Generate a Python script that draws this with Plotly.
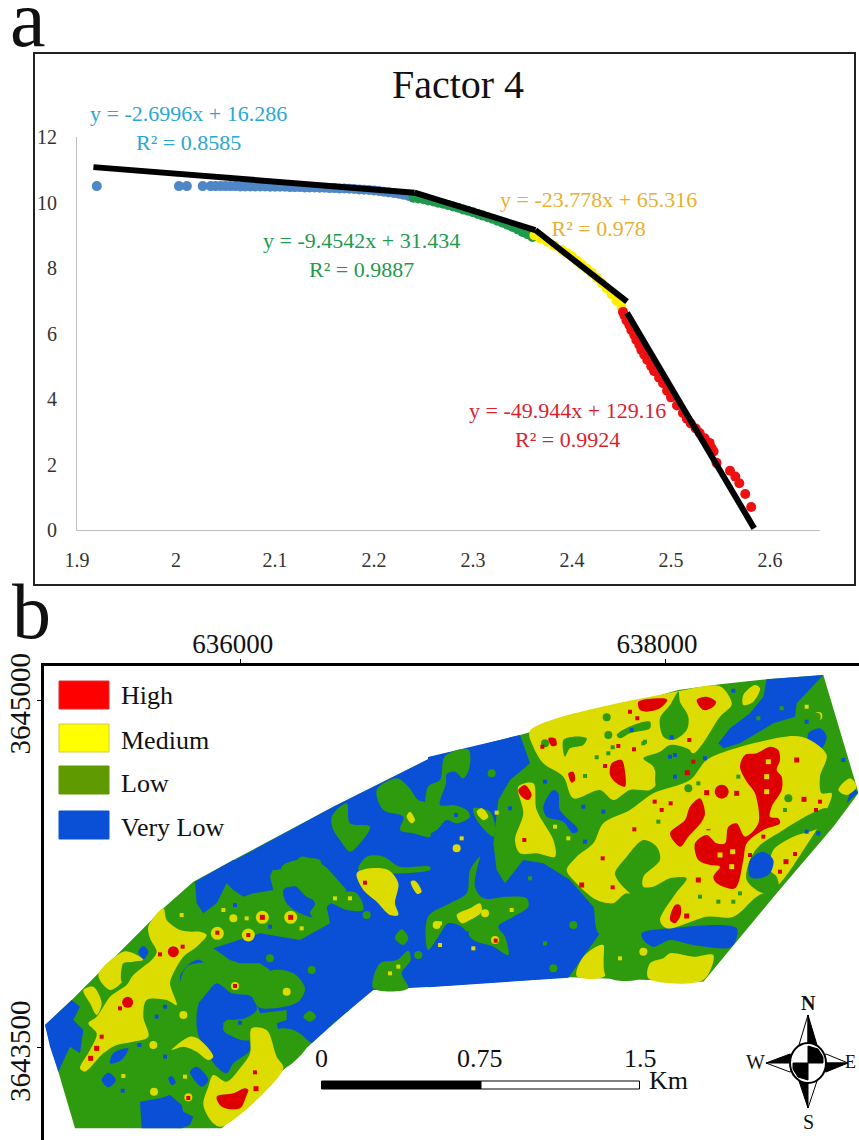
import plotly.graph_objects as go

W, H = 859, 1140
SERIF = "Liberation Serif"

# ---------- panel a: data ----------
X_TICKS = [1.9, 2.0, 2.1, 2.2, 2.3, 2.4, 2.5, 2.6]
X_TICK_TEXT = ["1.9", "2", "2.1", "2.2", "2.3", "2.4", "2.5", "2.6"]
Y_TICKS = [0, 2, 4, 6, 8, 10, 12]

BLUE_X = [1.92, 2.003, 2.011, 2.027, 2.035, 2.04, 2.045, 2.05, 2.055, 2.06, 2.065, 2.07, 2.075, 2.08, 2.085, 2.09, 2.095, 2.10, 2.105, 2.11,
          2.115, 2.12, 2.125, 2.13, 2.135, 2.14, 2.145, 2.15, 2.155, 2.16, 2.165, 2.17, 2.175, 2.18, 2.185, 2.19, 2.195, 2.20, 2.205, 2.21,
          2.215, 2.22, 2.225, 2.23, 2.235, 2.24]
BLUE_Y = [10.5, 10.5, 10.5, 10.5, 10.5, 10.5, 10.5, 10.5, 10.5, 10.5, 10.49, 10.49, 10.49, 10.49, 10.49, 10.49, 10.48, 10.48, 10.48, 10.48,
          10.47, 10.47, 10.47, 10.46, 10.46, 10.46, 10.45, 10.45, 10.44, 10.44, 10.43, 10.43, 10.42, 10.41, 10.4, 10.39, 10.38, 10.37, 10.35, 10.33,
          10.31, 10.29, 10.27, 10.24, 10.2, 10.15]
GREEN_X = [2.24, 2.245, 2.25, 2.255, 2.26, 2.265, 2.27, 2.275, 2.28, 2.285, 2.29, 2.295, 2.30, 2.305, 2.31, 2.315, 2.32, 2.325, 2.33, 2.335, 2.34, 2.345, 2.35, 2.355, 2.36]
GREEN_Y = [10.15, 10.12, 10.1, 10.06, 10.03, 9.99, 9.96, 9.92, 9.88, 9.84, 9.79, 9.75, 9.7, 9.65, 9.6, 9.55, 9.5, 9.44, 9.38, 9.32, 9.25, 9.18, 9.1, 9.03, 8.95]
YELLOW_X = [2.362, 2.368, 2.375, 2.382, 2.39, 2.395, 2.40, 2.405, 2.41, 2.415, 2.42, 2.425, 2.43, 2.435, 2.44, 2.445, 2.45]
YELLOW_Y = [9.0, 8.9, 8.8, 8.68, 8.55, 8.45, 8.35, 8.22, 8.1, 7.98, 7.85, 7.7, 7.55, 7.38, 7.2, 7.0, 6.8]
RED_X = [2.4515, 2.453, 2.455, 2.458, 2.46, 2.463, 2.465, 2.468, 2.47, 2.473, 2.476, 2.48, 2.483, 2.488, 2.492, 2.496, 2.50, 2.506, 2.512, 2.516, 2.52, 2.525, 2.529, 2.534, 2.539, 2.541, 2.543, 2.546,
         2.5596, 2.565, 2.569, 2.575, 2.581]
RED_Y = [6.66, 6.55, 6.4, 6.25, 6.1, 5.95, 5.8, 5.65, 5.5, 5.35, 5.19, 5.0, 4.85, 4.65, 4.48, 4.25, 4.05, 3.8, 3.57, 3.4, 3.25, 3.1, 2.96, 2.8, 2.66, 2.5, 2.4, 2.05,
         1.81, 1.63, 1.43, 1.1, 0.7]
FIT_BLUE = ([1.9166, 2.241], [11.08, 10.3])
FIT_GREEN = ([2.241, 2.363], [10.3, 9.16])
FIT_YELLOW = ([2.363, 2.4556], [9.16, 6.97])
FIT_RED = ([2.4556, 2.584], [6.63, 0.05])

# ---------- panel b: digitised map sheets ----------
# Each sheet is a digitised tile of the map; vertices are in tile units.
SHEETS = {"nw": (0, 590), "sw": (0, 860), "e": (430, 630)}

OUTLINE = [("sw", [(135, 495), (215, 420), (440, 195), (490, 145), (580, 65), (700, 0)]),
           ("nw", [(1000, 650), (1290, 505)]),
           ("e", [(270, 315), (745, 180), (870, 163), (1010, 148), (1180, 135), (1280, 470), (1285, 490), (1210, 590),
                  (1040, 790), (820, 1055), (655, 1050), (420, 1042), (0, 1070)]),
           ("sw", [(1220, 381), (1115, 390), (935, 550), (850, 630), (665, 805), (225, 805), (175, 635)])]

# areas that run along the map outline stay straight-edged
BLUE_EDGE = [
    ("nw", [(650, 840), (1000, 650), (1296, 502), (1296, 840)]),
    ("sw", [(135, 495), (215, 420), (240, 440), (220, 480), (250, 510), (240, 580), (210, 560), (175, 635), (150, 560)]),
    ("sw", [(585, 65), (700, 0), (830, 0), (810, 50), (820, 90), (760, 100), (730, 110), (700, 90), (680, 70), (650, 130), (610, 160), (590, 130)]),
    ("sw", [(960, 0), (1296, 0), (1296, 380), (1120, 390), (1000, 490), (935, 550), (880, 510), (840, 530), (830, 490), (860, 480), (860, 450),
            (780, 460), (755, 390), (790, 350), (810, 330), (780, 310), (720, 310), (690, 300), (640, 265), (780, 220), (900, 240), (990, 190), (980, 140), (1040, 90)]),
    ("sw", [(420, 725), (480, 715), (510, 705), (545, 735), (550, 755), (580, 770), (570, 795), (545, 805), (425, 805)]),
    ("e", [(-6, 381), (270, 315), (300, 400), (270, 425), (240, 450), (205, 510), (190, 640), (200, 720), (225, 760), (280, 690), (340, 700),
           (420, 750), (490, 830), (510, 910), (415, 1043), (-6, 1072)]),
    ("e", [(1010, 148), (1180, 135), (1100, 220), (1095, 260), (1030, 280), (980, 310), (930, 340), (880, 355), (865, 340), (900, 295), (960, 250), (1000, 200)]),
    ("e", [(1265, 470), (1285, 487), (1250, 520), (1258, 495)]),
]
BLUE_BLOBS = [
    ("sw", [(850, 90), (880, 75), (920, 110), (960, 130), (945, 170), (900, 160), (860, 130)]),
    ("sw", [(540, 350), (570, 310), (600, 300), (630, 340), (580, 390), (550, 390)]),
    ("sw", [(600, 420), (650, 370), (700, 400), (755, 410), (770, 450), (720, 480), (680, 480), (670, 510), (700, 530), (740, 530), (750, 570),
            (700, 610), (680, 640), (650, 620), (610, 560), (590, 500)]),
    ("sw", [(330, 610), (340, 580), (385, 565), (365, 600)]),
    ("sw", [(305, 660), (325, 638), (348, 660), (325, 682)]),
    ("sw", [(570, 635), (590, 620), (625, 660), (605, 680)]),
    ("sw", [(505, 655), (515, 648), (527, 668), (515, 675)]),
    ("sw", [(415, 275), (430, 258), (445, 275), (430, 298)]),
    ("e", [(340, 530), (370, 480), (385, 490), (390, 540), (445, 600), (430, 610), (400, 575), (350, 560)]),
    ("e", [(1135, 310), (1170, 295), (1190, 320), (1170, 360), (1140, 350)]),
    ("e", [(635, 910), (720, 895), (920, 895), (905, 950), (790, 945), (720, 930), (670, 950), (640, 930)]),
    ("e", [(575, 855), (625, 830), (637, 862), (590, 875)]),
    ("e", [(520, 850), (540, 842), (550, 860), (530, 868)]),
]

GREEN_ON_BLUE = [
    ("nw", [(995, 680), (1040, 640), (1050, 700), (1110, 710), (1080, 760), (1050, 785), (1020, 750), (1000, 720)]),
    ("nw", [(1130, 600), (1190, 565), (1225, 590), (1255, 630), (1280, 640), (1290, 700), (1290, 740), (1240, 730), (1200, 720), (1210, 680), (1150, 660)]),
    ("nw", [(830, 840), (870, 830), (905, 800), (960, 820), (985, 840)]),
    ("nw", [(1075, 840), (1100, 800), (1150, 800), (1200, 830), (1290, 830), (1290, 840)]),
    ("sw", [(890, 0), (960, 0), (965, 50), (1010, 90), (1070, 100), (1090, 150), (1040, 150), (985, 130), (970, 190), (930, 160), (945, 130), (890, 80), (850, 80), (845, 20)]),
    ("sw", [(1185, 235), (1205, 208), (1225, 235), (1210, 255)]),
    ("sw", [(1120, 385), (1140, 310), (1190, 300), (1225, 272), (1232, 300), (1205, 340), (1225, 385)]),
    ("sw", [(750, 370), (820, 330), (880, 340), (915, 385), (895, 425), (820, 445), (775, 440)]),
    ("sw", [(910, 470), (930, 452), (948, 470), (930, 485)]),
    ("sw", [(670, 490), (700, 480), (745, 480), (780, 500), (750, 540), (700, 530)]),
    ("sw", [(830, 510), (880, 510), (925, 550), (850, 625), (825, 590)]),
    ("sw", [(640, 280), (690, 305), (720, 345), (700, 400), (650, 370), (620, 400), (590, 430), (540, 395), (560, 320), (640, 300)]),
    ("e", [(45, 378), (115, 358), (118, 415), (100, 445), (75, 425), (50, 432), (48, 460), (30, 525), (70, 525), (110, 540), (120, 560), (80, 580),
           (50, 570), (20, 600), (-6, 610), (-6, 470), (30, 450)]),
    ("e", [(130, 535), (180, 545), (195, 590), (190, 620), (140, 570)]),
    ("e", [(150, 680), (120, 720), (110, 790), (60, 820), (-6, 860), (-6, 960), (25, 920), (55, 880), (95, 890), (130, 930), (190, 950), (235, 975),
           (225, 920), (205, 890), (250, 860), (295, 830), (290, 805), (230, 800), (160, 805), (135, 770), (140, 720)]),
]

YELLOW_AREAS = [
    ("nw", [(1220, 680), (1230, 665), (1245, 690), (1235, 700)]),
    ("sw", [(490, 145), (445, 200), (450, 235), (470, 275), (455, 300), (430, 320), (400, 345), (380, 375), (350, 395), (330, 410), (290, 470), (265, 490),
            (290, 520), (270, 570), (240, 625), (255, 635), (310, 580), (350, 555), (400, 545), (445, 530), (430, 470), (440, 420), (500, 420), (530, 435),
            (510, 370), (520, 340), (550, 290), (590, 260), (620, 225), (600, 215), (575, 215), (540, 210), (500, 180)]),
    ("sw", [(370, 275), (295, 345), (330, 390), (370, 360), (370, 315), (400, 305), (430, 300), (400, 280)]),
    ("sw", [(250, 390), (280, 380), (305, 430), (290, 465), (270, 430)]),
    ("sw", [(1070, 40), (1110, 25), (1165, 30), (1195, 70), (1185, 130), (1195, 165), (1170, 165), (1130, 125), (1090, 90)]),
    ("sw", [(515, 570), (570, 530), (600, 540), (640, 590), (625, 600), (590, 575), (550, 560)]),
    ("sw", [(755, 505), (800, 510), (830, 590), (850, 625), (665, 800), (640, 790), (610, 735), (625, 680), (640, 645), (680, 665), (720, 625), (750, 580)]),
    ("sw", [(1232, 65), (1245, 62), (1265, 95), (1252, 102)]),
    ("e", [(300, 303), (745, 184), (868, 168), (895, 195), (905, 225), (870, 260), (815, 345), (790, 370), (770, 355), (720, 345), (690, 365), (640, 385),
           (670, 410), (680, 460), (660, 480), (600, 480), (550, 510), (510, 480), (430, 505), (400, 440), (340, 400), (310, 350)]),
    ("e", [(940, 195), (975, 165), (990, 175), (970, 215), (940, 225)]),
    ("e", [(670, 490), (780, 450), (830, 390), (900, 360), (1090, 318), (1140, 330), (1190, 375), (1170, 440), (1175, 490), (1205, 490), (1170, 580),
           (1130, 645), (1040, 770), (980, 800), (910, 860), (830, 860), (710, 895), (690, 870), (760, 750), (720, 760), (640, 800), (600, 790), (560, 820),
           (500, 810), (430, 750), (410, 720), (440, 680), (490, 640), (520, 580), (600, 540)]),
    ("e", [(265, 470), (310, 460), (320, 540), (370, 630), (375, 680), (320, 670), (270, 670), (255, 630), (280, 550)]),
    ("e", [(655, 1045), (660, 1000), (700, 985), (720, 970), (790, 980), (850, 975), (820, 1050)]),
    ("e", [(440, 1038), (460, 980), (520, 945), (525, 1038)]),
    ("e", [(80, 855), (120, 835), (150, 820), (155, 845), (120, 870), (95, 880)]),
    ("e", [(555, 880), (570, 868), (590, 905), (575, 912)]),
    ("e", [(1225, 480), (1260, 445), (1280, 470), (1250, 495)]),
    ("e", [(140, 545), (155, 535), (175, 560), (160, 570)]),
]

GREEN_ON_YELLOW = [
    ("sw", [(370, 310), (395, 310), (385, 350), (365, 365)]),
    ("e", [(745, 185), (750, 215), (775, 260), (770, 300), (730, 330), (700, 320), (690, 265), (720, 225)]),
    ("e", [(400, 330), (430, 320), (470, 325), (460, 345), (420, 355), (405, 380)]),
    ("e", [(560, 315), (610, 285), (660, 275), (660, 295), (600, 310), (570, 325)]),
    ("e", [(960, 690), (985, 650), (1060, 600), (1145, 550), (1190, 535), (1170, 590), (1090, 620), (1030, 660), (1020, 720), (1040, 740), (1045, 780),
           (1000, 790), (950, 750)]),
    ("e", [(555, 730), (590, 680), (640, 630), (680, 650), (690, 690), (640, 740), (640, 770), (670, 770), (720, 745), (770, 745), (700, 830), (690, 860),
           (640, 820), (600, 790), (570, 760)]),
    ("e", [(680, 400), (690, 370), (780, 360), (770, 400), (730, 450), (680, 470)]),
    ("e", [(500, 820), (550, 820), (590, 790), (640, 825), (690, 880), (630, 900), (640, 1040), (530, 1040), (520, 930), (500, 900)]),
]

BLUE_ON_GREEN = [
    ("e", [(960, 690), (1000, 665), (1030, 690), (1020, 730), (990, 745), (960, 740)]),
]

RED_AREAS = [
    ("sw", [(650, 710), (700, 700), (735, 685), (745, 690), (740, 705), (720, 745), (665, 740)]),
    ("e", [(945, 375), (980, 370), (1020, 350), (1045, 360), (1050, 390), (1040, 420), (1055, 440), (1055, 480), (1025, 530), (1020, 560), (1045, 565),
           (1050, 580), (1000, 600), (950, 640), (940, 690), (915, 775), (860, 760), (850, 740), (870, 710), (840, 705), (805, 690), (795, 640),
           (830, 615), (860, 640), (885, 640), (895, 590), (920, 580), (945, 620), (985, 580), (975, 490), (950, 455), (930, 410)]),
    ("e", [(720, 610), (765, 570), (780, 530), (810, 505), (825, 550), (815, 575), (775, 620), (750, 650)]),
    ("e", [(625, 215), (700, 205), (712, 210), (690, 235), (650, 245), (630, 240)]),
    ("e", [(800, 210), (830, 200), (858, 215), (850, 230), (820, 240)]),
    ("e", [(545, 400), (575, 390), (585, 425), (585, 470), (560, 460), (540, 435)]),
    ("e", [(265, 480), (285, 465), (305, 495), (295, 510), (275, 500)]),
    ("e", [(355, 325), (375, 325), (380, 345), (365, 348)]),
    ("e", [(415, 430), (430, 425), (435, 450), (425, 458)]),
    ("e", [(735, 825), (750, 825), (752, 855), (735, 880), (720, 870)]),
]

# spots: tier -> sheet -> points
YELLOW_SPOTS_L = {"sw": [(787, 172), (872, 172), (745, 225), (652, 220)]}
YELLOW_SPOTS_M = {"sw": [(705, 378), (565, 712), (700, 175), (860, 395), (550, 465), (460, 555), (462, 695)],
                  "e": [(20, 885), (195, 930), (155, 550), (80, 655), (1165, 258), (640, 965), (165, 850)]}
YELLOW_SPOTS_S = {"sw": [(740, 175), (545, 165), (1195, 320), (1170, 340), (1005, 115), (1050, 115), (370, 648), (555, 650), (670, 150), (905, 205)],
                  "e": [(245, 840), (30, 945), (130, 955), (95, 625), (1130, 230), (375, 590), (415, 625), (200, 548), (570, 985), (30, 880)]}
GREEN_SPOTS_M = {"sw": [(810, 295), (935, 330), (1255, 285), (1100, 165)],
                 "e": [(185, 430), (430, 885), (370, 1015), (530, 262), (535, 315), (775, 475), (1075, 505), (1160, 260), (345, 340)]}
GREEN_SPOTS_S = {"e": [(465, 438), (500, 382), (535, 370), (640, 340), (548, 352), (685, 575), (805, 460), (925, 440), (810, 800), (865, 815), (910, 815),
                       (930, 790), (1065, 540), (300, 745), (345, 940), (645, 335), (1055, 235), (985, 265)]}
BLUE_SPOTS_S = {"sw": [(705, 135), (495, 440), (470, 470), (495, 590), (418, 555), (368, 692), (720, 488), (810, 200)],
                "e": [(720, 380), (735, 375), (605, 300), (725, 322), (825, 385), (460, 530), (520, 545), (240, 535), (465, 635), (78, 555), (1130, 275),
                      (110, 910), (910, 182), (1240, 390), (1130, 605), (1165, 610), (345, 455), (735, 440)]}
RED_SPOTS_L = {"sw": [(383, 427), (520, 275)]}
RED_SPOTS_M = {"sw": [(787, 172), (872, 172), (290, 565), (272, 595), (768, 686)],
               "e": [(1068, 695), (1122, 508), (1100, 390), (920, 490), (805, 750), (770, 858), (455, 765), (830, 488), (772, 428)]}
RED_SPOTS_S = {"sw": [(652, 218), (745, 225), (705, 378), (565, 714), (305, 530), (360, 445), (480, 283), (548, 260), (765, 637), (1095, 68)],
               "e": [(525, 408), (600, 245), (622, 265), (565, 348), (612, 358), (337, 350), (778, 330), (790, 395), (722, 520), (674, 515), (1170, 515),
                     (1158, 540), (1095, 672), (548, 772), (1000, 620), (197, 932), (960, 675), (613, 598), (695, 540), (835, 595), (1050, 725), (283, 630), (518, 685)]}
HOLE_SPOTS = {"e": [(908, 665), (905, 710), (870, 675), (1015, 395), (1010, 440), (1010, 485), (835, 590)]}
LOW_RED_BLOB = {"e": [(875, 485)]}

# calibration of the map sheet
E_AT_636000_PX, E_AT_638000_PX = 240.7, 665.0
N_AT_3645000_PX, N_AT_3643500_PX = 700.0, 1047.7
M_PER_PX_X = 2000 / (E_AT_638000_PX - E_AT_636000_PX)
M_PER_PX_Y = 1500 / (N_AT_3643500_PX - N_AT_3645000_PX)


def to_en(sheet, pts):
    ox, oy = SHEETS[sheet]
    xs, ys = [], []
    for zx, zy in pts:
        px, py = ox + zx / 3, oy + zy / 3
        xs.append(636000 + (px - E_AT_636000_PX) * M_PER_PX_X)
        ys.append(3645000 - (py - N_AT_3645000_PX) * M_PER_PX_Y)
    return xs, ys


COL_RED, COL_YEL, COL_GRN, COL_BLU = "#de0000", "#dcdc00", "#2e9a0e", "#0a50d6"
fig = go.Figure()


def add_poly(part, color, name, smooth=True):
    xs, ys = to_en(*part)
    if smooth:
        xs, ys = xs + xs[:1], ys + ys[:1]
        line = dict(width=0, shape="spline", smoothing=0.9, simplify=False)
    else:
        line = dict(width=0, simplify=False)
    fig.add_trace(go.Scatter(x=xs, y=ys, mode="lines", line=line, fill="toself", fillcolor=color, name=name, showlegend=False,
                             hoverinfo="skip", xaxis="x2", yaxis="y2"))


def add_spots(table, color, size, name, symbol="square"):
    for sheet, pts in table.items():
        xs, ys = to_en(sheet, pts)
        fig.add_trace(go.Scatter(x=xs, y=ys, mode="markers", name=name, showlegend=False, hoverinfo="skip",
                                 marker=dict(color=color, size=size, symbol=symbol, line=dict(width=0)),
                                 xaxis="x2", yaxis="y2"))


# panel a traces
for xs, ys, c, n in [(BLUE_X, BLUE_Y, "#4f86c6", "Very Low"), (GREEN_X, GREEN_Y, "#1f9a4d", "Low"),
                     (YELLOW_X, YELLOW_Y, "#ffee00", "Medium"), (RED_X, RED_Y, "#ee1111", "High")]:
    fig.add_trace(go.Scatter(x=xs, y=ys, mode="markers", name=n, showlegend=False, marker=dict(color=c, size=10)))
for fit in (FIT_BLUE, FIT_GREEN, FIT_YELLOW, FIT_RED):
    fig.add_trace(go.Scatter(x=fit[0], y=fit[1], mode="lines", showlegend=False, line=dict(color="black", width=6)))

# panel b traces
ox_parts = []
for sheet, pts in OUTLINE:
    xs, ys = to_en(sheet, pts)
    ox_parts.append((xs, ys))
fig.add_trace(go.Scatter(x=[v for p in ox_parts for v in p[0]], y=[v for p in ox_parts for v in p[1]], mode="none", fill="toself",
                         fillcolor=COL_GRN, name="Low", showlegend=False, hoverinfo="skip", xaxis="x2", yaxis="y2"))
for part in BLUE_EDGE:
    add_poly(part, COL_BLU, "Very Low", smooth=False)
for part in BLUE_BLOBS:
    add_poly(part, COL_BLU, "Very Low")
for part in GREEN_ON_BLUE:
    add_poly(part, COL_GRN, "Low")
for part in YELLOW_AREAS:
    add_poly(part, COL_YEL, "Medium")
for part in GREEN_ON_YELLOW:
    add_poly(part, COL_GRN, "Low")
for part in BLUE_ON_GREEN:
    add_poly(part, COL_BLU, "Very Low")
add_spots(YELLOW_SPOTS_L, COL_YEL, 13, "Medium", "circle")
add_spots(YELLOW_SPOTS_M, COL_YEL, 8, "Medium", "circle")
add_spots(YELLOW_SPOTS_S, COL_YEL, 4, "Medium")
add_spots(GREEN_SPOTS_M, COL_GRN, 8, "Low", "circle")
add_spots(GREEN_SPOTS_S, COL_GRN, 4, "Low")
add_spots(BLUE_SPOTS_S, COL_BLU, 4, "Very Low")
for part in RED_AREAS:
    add_poly(part, COL_RED, "High")
add_spots(LOW_RED_BLOB, COL_RED, 14, "High", "circle")
add_spots(RED_SPOTS_L, COL_RED, 11, "High", "circle")
add_spots(RED_SPOTS_M, COL_RED, 5, "High")
add_spots(RED_SPOTS_S, COL_RED, 4, "High")
add_spots(HOLE_SPOTS, COL_YEL, 5, "Medium")


def fx(px):
    return px / W


def fy(py):
    return 1 - py / H


def note(text, px, py, size, color="#111111", anchor="center", bold=False):
    if bold:
        text = "<b>" + text + "</b>"
    return dict(text=text, xref="paper", yref="paper", x=fx(px), y=fy(py), showarrow=False, xanchor=anchor, yanchor="middle",
                align="center", font=dict(family=SERIF, size=size, color=color))


annotations = [
    note("a", 28, 19, 80),
    note("b", 31, 611, 78),
    note("y = -2.6996x + 16.286<br>R² = 0.8585", 188, 128, 22, "#29a8d6"),
    note("y = -9.4542x + 31.434<br>R² = 0.9887", 361, 255, 22, "#1f9a50"),
    note("y = -23.778x + 65.316<br>R² = 0.978", 598, 214, 22, "#e8b030"),
    note("y = -49.944x + 129.16<br>R² = 0.9924", 567, 425, 22, "#d8232f"),
    note("High", 119, 695, 26, anchor="left"),
    note("Medium", 119, 740, 26, anchor="left"),
    note("Low", 119, 783, 26, anchor="left"),
    note("Very Low", 119, 827, 26, anchor="left"),
    note("0", 321, 1058, 26),
    note("0.75", 480, 1058, 26),
    note("1.5", 640, 1058, 26),
    note("Km", 647, 1080, 26, anchor="left"),
    note("N", 808, 1003, 20, bold=True),
    note("S", 808, 1122, 20),
    note("W", 755, 1062, 20),
    note("E", 858, 1062, 18, anchor="right"),
]


def rect(x0, y0, x1, y1, fill="rgba(0,0,0,0)", line="black", lw=1):
    return dict(type="rect", xref="paper", yref="paper", x0=fx(x0), x1=fx(x1), y0=fy(y0), y1=fy(y1), fillcolor=fill,
                line=dict(color=line, width=lw))


def path(pts, fill):
    d = "M " + " L ".join(f"{fx(x):.5f} {fy(y):.5f}" for x, y in pts) + " Z"
    return dict(type="path", xref="paper", yref="paper", path=d, fillcolor=fill, line=dict(color="black", width=1))


CX, CY = 808, 1063
shapes = [
    rect(34, 53, 855, 585, line="#222222", lw=2),
    rect(59, 681, 109, 709, fill="#ff0000", line="#d83030"),
    rect(59, 724, 109, 752, fill="#ffff00", line="#d8c840"),
    rect(59, 766, 109, 794, fill="#5f9a00", line="#5f9a00"),
    rect(59, 811, 109, 839, fill="#0a50d6", line="#0a50d6"),
    rect(321.5, 1081, 481, 1089, fill="black"),
    rect(481, 1081, 639.5, 1089, fill="white"),
    # compass arms
    path([(CX, 1015), (CX, CY), (CX - 9, CY - 18)], "white"),
    path([(CX, 1015), (CX, CY), (CX + 9, CY - 18)], "black"),
    path([(CX, 1108), (CX, CY), (CX - 9, CY + 18)], "black"),
    path([(CX, 1108), (CX, CY), (CX + 9, CY + 18)], "white"),
    path([(766, CY), (CX, CY), (CX - 18, CY - 9)], "black"),
    path([(766, CY), (CX, CY), (CX - 18, CY + 9)], "white"),
    path([(848, CY), (CX, CY), (CX + 18, CY - 9)], "white"),
    path([(848, CY), (CX, CY), (CX + 18, CY + 9)], "black"),
    dict(type="circle", xref="paper", yref="paper", x0=fx(CX - 18), x1=fx(CX + 18), y0=fy(CY + 20), y1=fy(CY - 20), fillcolor="white",
         line=dict(color="black", width=2)),
    path([(CX, CY), (CX, CY - 17), (CX + 10, CY - 14), (CX + 15, CY - 6), (CX + 15, CY)], "black"),
    path([(CX, CY), (CX, CY + 17), (CX - 10, CY + 14), (CX - 15, CY + 6), (CX - 15, CY)], "black"),
]

axis_a = dict(showgrid=False, zeroline=False, ticks="", color="#333333", linecolor="#bfbfbf", linewidth=1, showline=True,
              tickfont=dict(family=SERIF, size=20, color="#333333"))
axis_b = dict(showgrid=False, zeroline=False, ticks="outside", ticklen=4, tickwidth=1, tickcolor="black", showline=True,
              linecolor="black", linewidth=2.5)

MAP_E_RANGE = [636000 - (240.7 - 44) * M_PER_PX_X, 636000 + (859 - 240.7) * M_PER_PX_X]
MAP_N_RANGE = [3645000 - (1140 - 700) * M_PER_PX_Y, 3645000 + (700 - 665.5) * M_PER_PX_Y]

fig.update_layout(
    width=W, height=H, autosize=False, margin=dict(l=0, r=0, t=0, b=0, autoexpand=False), paper_bgcolor="white", plot_bgcolor="rgba(0,0,0,0)",
    font=dict(family=SERIF), showlegend=False,
    title=dict(text="Factor 4", x=458 / W, xanchor="center", y=fy(84), yanchor="middle",
               font=dict(family=SERIF, size=40, color="#111111")),
    xaxis=dict(axis_a, domain=[fx(77), fx(819.5)], range=[1.9, 2.65], tickmode="array", tickvals=X_TICKS, ticktext=X_TICK_TEXT,
               anchor="y", ticklabelstandoff=12, automargin=False),
    yaxis=dict(axis_a, domain=[fy(530), fy(137)], range=[0, 12], tickmode="array", tickvals=Y_TICKS, anchor="x", ticklabelstandoff=15, automargin=False),
    xaxis2=dict(axis_b, domain=[fx(44), 1], range=MAP_E_RANGE, side="top", tickmode="array", tickvals=[636000, 638000],
                ticktext=["636000", "638000"], anchor="y2", ticklabelstandoff=-5, ticklabelshift=-8, automargin=False,
                tickfont=dict(family=SERIF, size=27, color="#111111")),
    yaxis2=dict(axis_b, domain=[0, fy(665.5)], range=MAP_N_RANGE, tickmode="array", tickvals=[3643500, 3645000],
                ticktext=["3643500", "3645000"], tickangle=-90, anchor="x2", ticklabelshift=8, ticklabelstandoff=-4, automargin=False,
                tickfont=dict(family=SERIF, size=29, color="#111111")),
    annotations=annotations, shapes=shapes,
)

fig.write_html("out.html", config={"displayModeBar": False},
               post_script="document.body.style.margin='0';document.body.style.overflow='hidden';")
